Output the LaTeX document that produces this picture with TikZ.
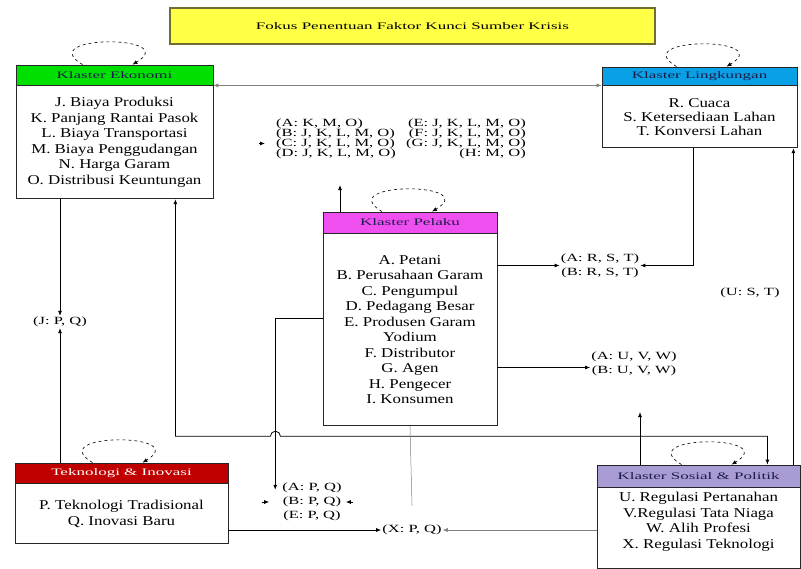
\documentclass[tikz,border=0pt]{standalone}
\usepackage{fontspec}
\setmainfont{Liberation Serif}
\newfontfamily\isifont{Liberation Serif}[FakeStretch=1.25]
\newfontfamily\labfont{Liberation Serif}[FakeStretch=1.5]
\newfontfamily\kepfont{Liberation Serif}[FakeStretch=1.7]
\usepackage{xcolor}
\usepackage{tikz}
\usetikzlibrary{arrows.meta, positioning}
\usetikzlibrary{calc}

\definecolor{hijau}{HTML}{00E000}
\definecolor{biru}{HTML}{0AA0E6}
\definecolor{ungu}{HTML}{F04FF0}
\definecolor{merah}{HTML}{C00000}
\definecolor{lavender}{HTML}{A99BD4}
\definecolor{kuning}{HTML}{FFFF45}
\definecolor{zaitun}{HTML}{6E6E30}
\definecolor{tinta}{HTML}{1C1C4A}

\begin{document}
\begin{tikzpicture}[x=1pt,y=-1pt,>={Latex[length=5pt,width=4pt]},
    kepala/.style={draw=black!85,line width=0.8pt,inner sep=0pt,text=tinta,font=\kepfont\fontsize{10}{12}\selectfont},
    isi/.style={draw=black!85,line width=0.8pt,fill=white,align=center,inner sep=0pt,font=\isifont\fontsize{13.5}{15.5}\selectfont},
    lab/.style={align=center,inner sep=1pt,font=\labfont\fontsize{11}{14}\selectfont},
    link/.style={line width=0.8pt,->},
    tipis/.style={gray,line width=0.5pt},
    putar/.style={dashed,line width=0.6pt,->}]
\path[use as bounding box,fill=white] (0,0) rectangle (801,568);

% judul
\node[draw=zaitun,line width=1.2pt,fill=kuning,minimum width=485pt,minimum height=36pt,inner sep=0pt,font=\kepfont\fontsize{10}{12}\selectfont](judul) at (412.5,26) {Fokus Penentuan Faktor Kunci Sumber Krisis};

% klaster
\node[kepala,fill=hijau,minimum width=197pt,minimum height=20pt](eko) at (114.5,75) {Klaster Ekonomi};
\node[isi,minimum width=197pt,minimum height=113pt,below=0pt of eko](ekob) {J. Biaya Produksi\\K. Panjang Rantai Pasok\\L. Biaya Transportasi\\M. Biaya Penggudangan\\N. Harga Garam\\O. Distribusi Keuntungan};

\node[kepala,fill=biru,minimum width=195pt,minimum height=18pt](lin) at (699.5,76) {Klaster Lingkungan};
\node[isi,minimum width=195pt,minimum height=62pt,below=0pt of lin,font=\isifont\fontsize{13.5}{14}\selectfont](linb) {R. Cuaca\\S. Ketersediaan Lahan\\T. Konversi Lahan};

\node[kepala,fill=ungu,minimum width=174pt,minimum height=21pt](pel) at (410,222.5) {Klaster Pelaku};
\node[isi,minimum width=174pt,minimum height=192pt,below=0pt of pel](pelb) {A. Petani\\B. Perusahaan Garam\\C. Pengumpul\\D. Pedagang Besar\\E. Produsen Garam\\Yodium\\F. Distributor\\G. Agen\\H. Pengecer\\I. Konsumen};

\node[kepala,fill=merah,text=white,minimum width=213pt,minimum height=20pt](tek) at (121.5,473) {Teknologi \& Inovasi};
\node[isi,minimum width=213pt,minimum height=60pt,below=0pt of tek](tekb) {P. Teknologi Tradisional\\Q. Inovasi Baru};

\node[kepala,fill=lavender,minimum width=203pt,minimum height=22pt](sos) at (698.5,476) {Klaster Sosial \& Politik};
\node[isi,minimum width=203pt,minimum height=81pt,below=0pt of sos](sosb) {U. Regulasi Pertanahan\\V.Regulasi Tata Niaga\\W. Alih Profesi\\X. Regulasi Teknologi\\\mbox{}};

% label keterkaitan
\node[lab,align=left,anchor=west,font=\labfont\fontsize{11}{10}\selectfont](kiri) at (275,138.5) {(A: K, M, O)\\(B: J, K, L, M, O)\\(C: J, K, L, M, O)\\(D: J, K, L, M, O)};
\node[lab,align=right,anchor=east,font=\labfont\fontsize{11}{10}\selectfont](kanan) at (527,138.5) {(E: J, K, L, M, O)\\(F: J, K, L, M, O)\\(G: J, K, L, M, O)\\(H: M, O)};
\node[lab](jpq) at (60,322) {(J: P, Q)};
\node[lab](rst) at (600,265.5) {(A: R, S, T)\\(B: R, S, T)};
\node[lab](ust) at (750,293) {(U: S, T)};
\node[lab](uvw) at (634,363.5) {(A: U, V, W)\\(B: U, V, W)};
\node[lab](pq) at (312,502) {(A: P, Q)\\(B: P, Q)\\(E: P, Q)};
\node[lab](xpq) at (412,530) {(X: P, Q)};
\coordinate (ujungA) at (340,185);
\coordinate (ujungB) at (640,412);

% putaran dalam klaster
\foreach \k/\s in {eko/-7,lin/2,pel/-3,tek/-4,sos/8}
    \draw[putar] ([xshift={\s-25}]\k.north) .. controls +(-50,-30) and +(50,-30) .. ([xshift={\s+25}]\k.north);

% hubungan
\draw[tipis,<->] (ekob.north east) -- (linb.north west);
\draw[link] (ekob.south -| jpq.north) -- (jpq.north);
\draw[link] (tek.north -| jpq.south) -- (jpq.south);
\draw[link,<->] ([xshift=-38]ekob.south east) -- ++(0,237) -- ++(95,0) arc(180:360:5) -| ([xshift=-33]sos.north east);
\draw[link] ([xshift=-104]linb.south east) |- (rst.east);
\draw[link] (pelb.east |- rst.west) -- (rst.west);
\draw[link] ([xshift=-7]sos.north east) -- ([xshift=-7]sos.north east |- linb.south);
\draw[link] ([yshift=-4]pelb.east |- uvw.west) -- ([yshift=-4]uvw.west);
\draw[link] (sos.north -| ujungB) -- (ujungB);
\draw[link] (pel.north -| ujungA) -- (ujungA);
\draw[link] ([yshift=11]pelb.west) -| ($(pq.north west)+(-6,8)$);
\draw[link] ([shift={(-16,5)}]kiri.west) -- ([shift={(-10,5)}]kiri.west);
\draw[link] ([xshift=-19]pq.west) -- ([xshift=-12]pq.west);
\draw[link] ([xshift=10]pq.east) -- ([xshift=3]pq.east);
\draw[tipis] (pelb.south) -- ([yshift=18]xpq.north);
\draw[link] (tekb.east |- xpq.west) -- (xpq.west);
\draw[tipis,->] (sosb.west |- xpq.east) -- (xpq.east);
\end{tikzpicture}
\end{document}
